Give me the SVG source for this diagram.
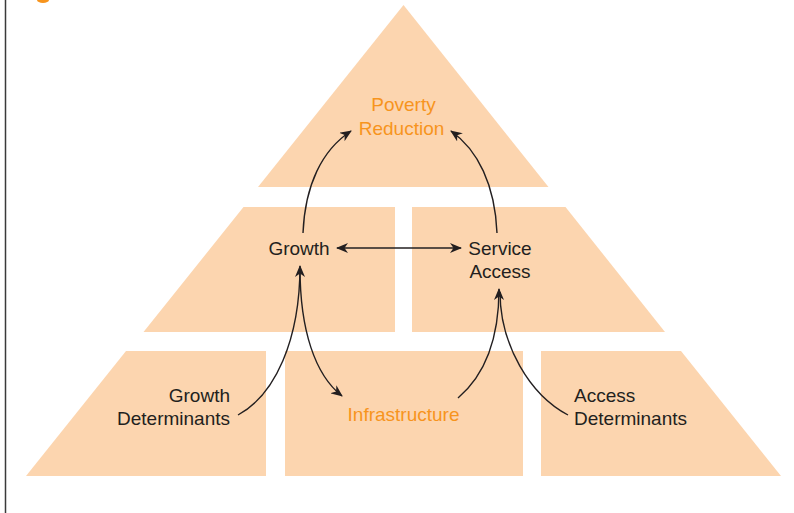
<svg xmlns="http://www.w3.org/2000/svg" width="794" height="513" viewBox="0 0 794 513">
  <style>
    .tier { fill: #FCD5AF; }
    .lbl { font-family: "Liberation Sans", Arial, sans-serif; font-size: 19px; fill: #231F20; }
    .hl { fill: #F7941D; }
    .link { fill: none; stroke: #231F20; stroke-width: 1.4; }
  </style>
  <defs>
    <marker id="arrow" viewBox="0 0 12 10" refX="11" refY="5" markerWidth="12" markerHeight="10" markerUnits="userSpaceOnUse" orient="auto-start-reverse">
      <path d="M0,0 L12,5 L0,10 L3.5,5 Z" fill="#231F20"/>
    </marker>
  </defs>

  <rect width="794" height="513" fill="#ffffff"/>
  <!-- frame rule and heading fragment -->
  <line x1="5.5" y1="0" x2="5.5" y2="513" stroke="#3a3a3a" stroke-width="1.5"/>
  <ellipse cx="43" cy="0" rx="6" ry="3" fill="#F7941D"/>

  <!-- top tier -->
  <g id="poverty-reduction">
    <polygon class="tier" points="403.5,5 548.5,187 258,187"/>
    <text class="lbl hl" text-anchor="middle" x="403.5" y="111">Poverty</text>
    <text class="lbl hl" text-anchor="middle" x="401.5" y="135">Reduction</text>
  </g>

  <!-- middle tier -->
  <g id="growth">
    <polygon class="tier" points="243.5,207 395,207 395,332 143.5,332"/>
    <text class="lbl" text-anchor="middle" x="299" y="255">Growth</text>
  </g>
  <g id="service-access">
    <polygon class="tier" points="412,207 565.5,207 665,332 412,332"/>
    <text class="lbl" text-anchor="middle" x="500" y="255">Service</text>
    <text class="lbl" text-anchor="middle" x="500" y="278">Access</text>
  </g>

  <!-- bottom tier -->
  <g id="growth-determinants">
    <polygon class="tier" points="126,351 266,351 266,476 26,476"/>
    <text class="lbl" text-anchor="end" x="230" y="402">Growth</text>
    <text class="lbl" text-anchor="end" x="230" y="425">Determinants</text>
  </g>
  <g id="infrastructure">
    <rect class="tier" x="285" y="351" width="238" height="125"/>
    <text class="lbl hl" text-anchor="middle" x="403.5" y="421">Infrastructure</text>
  </g>
  <g id="access-determinants">
    <polygon class="tier" points="541,351 681,351 781,476 541,476"/>
    <text class="lbl" text-anchor="start" x="574" y="402">Access</text>
    <text class="lbl" text-anchor="start" x="574" y="425">Determinants</text>
  </g>

  <!-- connectors -->
  <g id="connectors">
    <path class="link" marker-end="url(#arrow)" d="M303,233 C305,185 322,150 351,131"/>
    <path class="link" marker-end="url(#arrow)" d="M497,233 C495,185 478,150 451,131"/>
    <path class="link" marker-start="url(#arrow)" marker-end="url(#arrow)" d="M337,248 L461,248"/>
    <path class="link" marker-end="url(#arrow)" d="M238,415 C275,395 300,340 300,266"/>
    <path class="link" marker-end="url(#arrow)" d="M300,268 C300,330 315,375 342,396"/>
    <path class="link" marker-end="url(#arrow)" d="M458,398 C485,375 499,340 499,289"/>
    <path class="link" d="M568,415 C530,395 500,345 500,292"/>
  </g>
</svg>
